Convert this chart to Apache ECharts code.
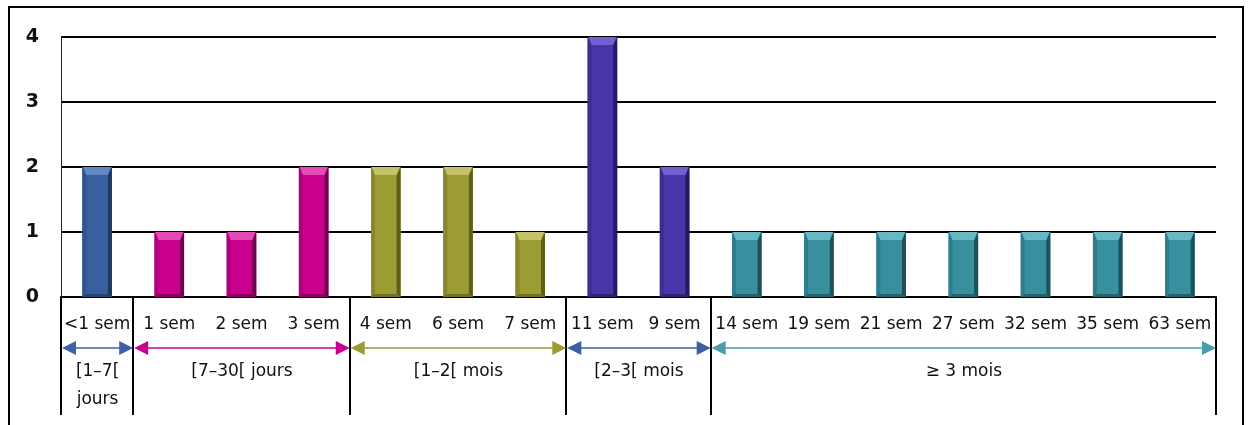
<!DOCTYPE html>
<html>
<head>
<meta charset="utf-8">
<script src="https://cdn.jsdelivr.net/npm/echarts@6/dist/echarts.min.js"></script>
<style>
  html, body { margin: 0; padding: 0; background: #fff; }
  #chart { width: 1250px; height: 425px; }
</style>
</head>
<body>
<div id="chart"></div>
<script>
// Délai observé, par cas
const categories = ['<1 sem', '1 sem', '2 sem', '3 sem', '4 sem', '6 sem', '7 sem',
  '11 sem', '9 sem', '14 sem', '19 sem', '21 sem', '27 sem', '32 sem', '35 sem', '63 sem'];
const counts = [2, 1, 1, 2, 2, 2, 1, 4, 2, 1, 1, 1, 1, 1, 1, 1];

// Regroupement par classe de délai
const groupLabels = [['[1–7[', 'jours'], ['[7–30[ jours'], ['[1–2[ mois'], ['[2–3[ mois'], ['≥ 3 mois']];
const groupSizes = [1, 3, 3, 2, 7];

const yTicks = [0, 1, 2, 3, 4];

// Palette : face, biseau haut, bord gauche, ombre
const palettes = [
  { face: '#3a5f9f', top: '#6388c6', left: '#30548f', dark: '#1f3763', arrow: '#3b62a6' },
  { face: '#c8008c', top: '#e34bb6', left: '#ad007a', dark: '#72004f', arrow: '#c8008c' },
  { face: '#9c9c34', top: '#c4c466', left: '#88882b', dark: '#5e5e1c', arrow: '#9c9c34' },
  { face: '#4a35a8', top: '#7260d2', left: '#3e2c90', dark: '#27195e', arrow: '#3b5ea6' },
  { face: '#38909f', top: '#66b8c4', left: '#2f7d8a', dark: '#1d5059', arrow: '#4a9dab' }
];

const FONT = 'DejaVu Sans';

// index de groupe pour chaque catégorie
const groupOf = [];
groupSizes.forEach((n, g) => { for (let i = 0; i < n; i++) groupOf.push(g); });

const seriesData = counts.map((v, i) => [i, v, groupOf[i]]);

function renderBevelBar(params, api) {
  const idx = api.value(0);
  const val = api.value(1);
  const pal = palettes[api.value(2)];
  const topPt = api.coord([idx, val]);
  const basePt = api.coord([idx, 0]);
  const w = api.size([1, 0])[0] * 0.41;
  const x = topPt[0] - w / 2;
  const y = topPt[1];
  const h = basePt[1] - topPt[1];
  const s = 4, t = 8, b = 3;
  return {
    type: 'group',
    children: [
      { type: 'rect', shape: { x: x, y: y, width: w, height: h }, style: { fill: pal.face } },
      { type: 'polygon', shape: { points: [[x, y], [x + s, y + t], [x + s, y + h - b], [x, y + h]] },
        style: { fill: pal.left } },
      { type: 'polygon', shape: { points: [[x + w, y], [x + w, y + h], [x + w - s, y + h - b], [x + w - s, y + t]] },
        style: { fill: pal.dark } },
      { type: 'polygon', shape: { points: [[x, y + h], [x + s, y + h - b], [x + w - s, y + h - b], [x + w, y + h]] },
        style: { fill: pal.dark, opacity: 0.7 } },
      { type: 'polygon', shape: { points: [[x + 1, y], [x + w - 1, y], [x + w - s, y + t], [x + s, y + t]] },
        style: { fill: pal.top } }
    ]
  };
}

const chart = echarts.init(document.getElementById('chart'), null, { renderer: 'canvas' });

chart.setOption({
  animation: false,
  backgroundColor: '#fff',
  grid: { left: 61, right: 34, top: 37, bottom: 128, containLabel: false },
  xAxis: {
    type: 'category',
    data: categories,
    axisLine: { show: true, lineStyle: { color: '#000', width: 2 } },
    axisTick: { show: false },
    axisLabel: {
      interval: 0,
      hideOverlap: false,
      margin: 19,
      fontFamily: FONT,
      fontSize: 17,
      lineHeight: 17,
      color: '#111'
    },
    splitLine: { show: false }
  },
  yAxis: {
    type: 'value',
    min: yTicks[0],
    max: yTicks[yTicks.length - 1],
    interval: 1,
    axisLine: { show: true, lineStyle: { color: '#222', width: 1 } },
    axisTick: { show: false },
    axisLabel: {
      margin: 22,
      fontFamily: FONT,
      fontSize: 19,
      fontWeight: 'bold',
      color: '#111'
    },
    splitLine: { show: true, lineStyle: { color: '#000', width: 2 } }
  },
  series: [{
    type: 'custom',
    renderItem: renderBevelBar,
    encode: { x: 0, y: 1 },
    data: seriesData,
    clip: false
  }]
});

// Tableau des classes sous l'axe : séparateurs, flèches et libellés
function buildGroupGraphics() {
  const c0 = chart.convertToPixel({ xAxisIndex: 0 }, 0);
  const c1 = chart.convertToPixel({ xAxisIndex: 0 }, 1);
  const band = c1 - c0;
  const left = c0 - band / 2;
  const axisY = chart.convertToPixel({ yAxisIndex: 0 }, 0);
  const lineBottom = axisY + 118;
  const arrowY = axisY + 51;
  const labelY = axisY + 75;
  const els = [];

  // cadre extérieur
  els.push({ type: 'rect', shape: { x: 9, y: 7, width: 1234, height: 440 },
    style: { fill: null, stroke: '#000', lineWidth: 2 }, z: 10 });

  const bounds = [0];
  groupSizes.forEach(n => bounds.push(bounds[bounds.length - 1] + n));

  bounds.forEach(k => {
    const x = Math.round(left + k * band);
    els.push({ type: 'line', shape: { x1: x, y1: axisY, x2: x, y2: lineBottom },
      style: { stroke: '#000', lineWidth: 2 }, z: 5 });
  });

  groupSizes.forEach((n, g) => {
    const xa = left + bounds[g] * band + 1;
    const xb = left + bounds[g + 1] * band;
    const col = palettes[g].arrow;
    const hl = 14, hh = 7;
    els.push({ type: 'line', shape: { x1: xa + hl - 2, y1: arrowY, x2: xb - hl + 2, y2: arrowY },
      style: { stroke: col, lineWidth: 1.6 }, z: 6 });
    els.push({ type: 'polygon', shape: { points: [[xa, arrowY], [xa + hl, arrowY - hh], [xa + hl, arrowY + hh]] },
      style: { fill: col }, z: 6 });
    els.push({ type: 'polygon', shape: { points: [[xb, arrowY], [xb - hl, arrowY - hh], [xb - hl, arrowY + hh]] },
      style: { fill: col }, z: 6 });
    const cx = (xa + xb) / 2;
    groupLabels[g].forEach((txt, li) => {
      els.push({ type: 'text', x: cx, y: labelY + li * 28, z: 6,
        style: { text: txt, fontFamily: FONT, fontSize: 17, fill: '#111',
          align: 'center', verticalAlign: 'middle' } });
    });
  });

  chart.setOption({ graphic: { elements: els } });
}

buildGroupGraphics();
</script>
</body>
</html>
